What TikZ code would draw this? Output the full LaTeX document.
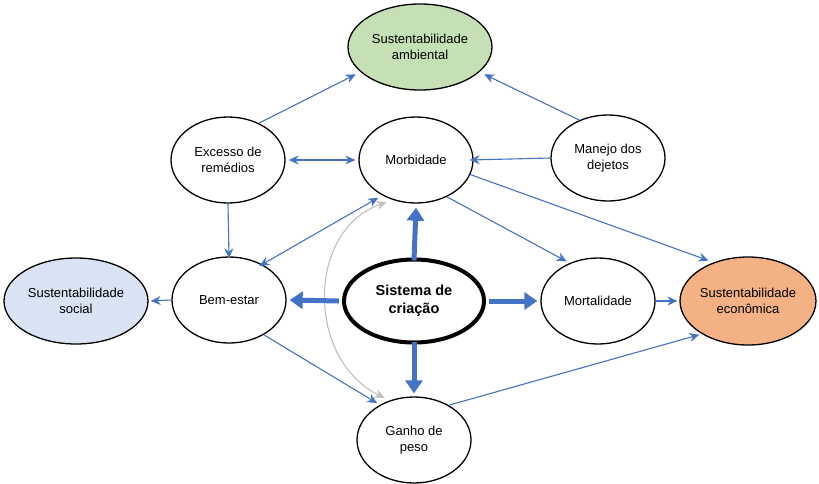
\documentclass[tikz,border=0pt]{standalone}
\usepackage{fontspec}
\setmainfont{Liberation Sans}
\usetikzlibrary{arrows.meta,shapes.geometric}
\definecolor{blu}{RGB}{68,114,196}
\definecolor{grn}{RGB}{197,224,180}
\definecolor{soc}{RGB}{218,227,243}
\definecolor{eco}{RGB}{244,177,131}
\begin{document}
\begin{tikzpicture}[x=1pt,y=-1pt,
  ell/.style={ellipse,draw=black,line width=1.3pt,minimum width=114pt,minimum height=86pt,inner sep=0pt,align=center,font=\fontsize{13}{15.5}\selectfont},
  big/.style={ell,minimum width=144pt,minimum height=86pt},
  arr/.style={draw=blu,line width=1.1pt,-{Stealth[length=10pt,width=9pt]}},
  barr/.style={draw=blu,line width=1.1pt,{Stealth[length=10pt,width=9pt]}-{Stealth[length=10pt,width=9pt]}},
  thk/.style={draw=blu,line width=5pt,-{Triangle[length=13pt,width=17pt]}}]
\useasboundingbox (0,0) rectangle (819,483);
\node[big,fill=grn] (amb) at (420,47) {Sustentabilidade\\ambiental};
\node[ell] (exc) at (228,160) {Excesso de\\remédios};
\node[ell] (mor) at (416,160) {Morbidade};
\node[ell] (man) at (608,158) {Manejo dos\\dejetos};
\node[big,fill=soc] (soc) at (76,301) {Sustentabilidade\\social};
\node[ell] (bem) at (229,300) {Bem-estar};
\node[ellipse,draw=black,line width=4pt,minimum width=140pt,minimum height=83pt,inner sep=0pt,align=center,font=\bfseries\fontsize{14.5}{18}\selectfont] (sis) at (414,301) {Sistema de\\criação};
\node[ell] (mrt) at (598,301) {Mortalidade};
\node[ell,fill=eco,minimum width=128pt,minimum height=88pt] (eco) at (748,301) {Sustentabilidade\\econômica};
\node[ell] (gan) at (414,440) {Ganho de\\peso};

\draw[arr] (exc.50) -- ([shift={(-4,3)}]amb.202);
\draw[arr] (man.127) -- ([shift={(4,3)}]amb.338);
\draw[barr] ([xshift=3pt]exc.east) -- ([xshift=-3pt]mor.west);
\draw[arr] (man.west) -- ([xshift=-4pt]mor.east);
\draw[arr] (exc.south) -- ([yshift=-2pt]bem.north);
\draw[barr] ([shift={(-2,2)}]bem.48) -- ([shift={(-3,3)}]mor.225);
\draw[arr] (mor.310) -- ([shift={(-2,-2)}]mrt.128);
\draw[arr] (mor.345) -- ([shift={(-2,-3)}]eco.135);
\draw[arr] (bem.west) -- ([xshift=2pt]soc.east);
\draw[arr] (bem.315) -- ([shift={(-2,-2)}]gan.135);
\draw[arr] (gan.45) -- ([shift={(-2,1)}]eco.215);
\draw[arr] (mrt.east) -- ([xshift=-2pt]eco.west);
\draw[draw=black!25,line width=1.1pt,{Stealth[length=10pt,width=9pt]}-{Stealth[length=10pt,width=9pt]}]
  ([shift={(-4,3)}]mor.237) .. controls (306,230) and (306,360) .. ([shift={(-4,-3)}]gan.123);
\draw[thk] ([yshift=-3pt]sis.north) -- ([yshift=-4pt]mor.south);
\draw[thk] ([xshift=-3pt]sis.west) -- ([xshift=3pt]bem.east);
\draw[thk] ([xshift=3pt]sis.east) -- ([xshift=-3pt]mrt.west);
\draw[thk] ([yshift=3pt]sis.south) -- ([yshift=3pt]gan.north);
\end{tikzpicture}
\end{document}
